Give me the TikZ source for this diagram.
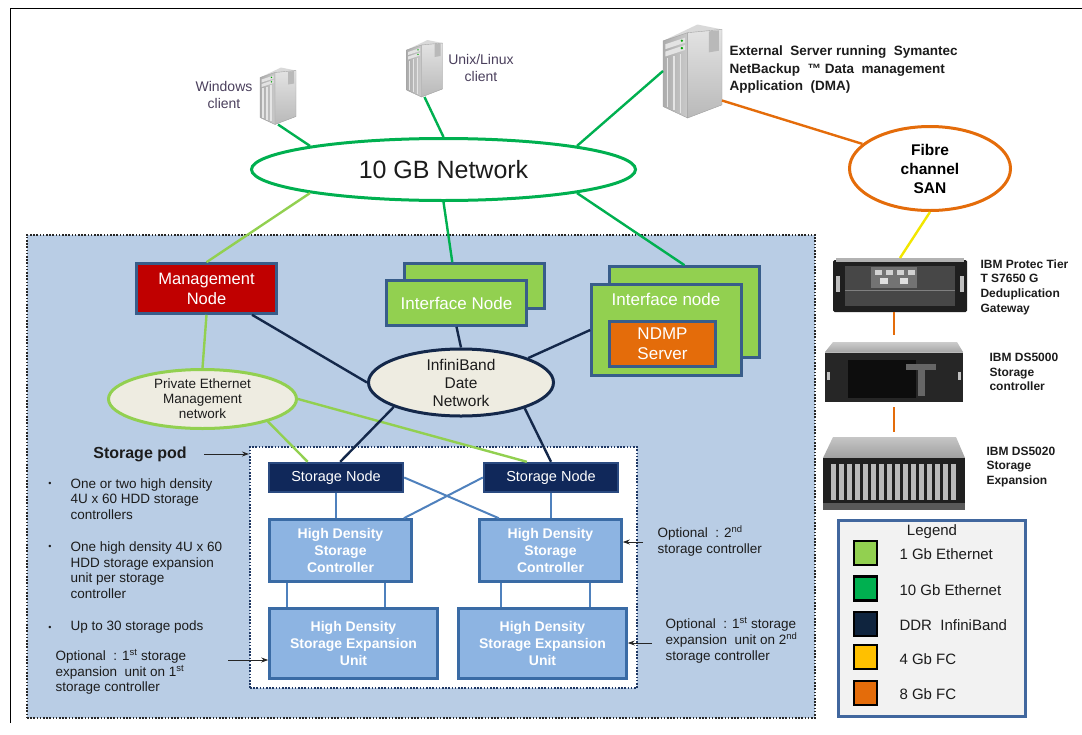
\documentclass[tikz,border=0pt]{standalone}
\usepackage{fontspec}
\setmainfont{Liberation Sans}
\usetikzlibrary{shapes.geometric,calc,arrows.meta}

\definecolor{lgreen}{HTML}{92D050}
\definecolor{dgreen}{HTML}{00B050}
\definecolor{navy}{HTML}{14284A}
\definecolor{navyfill}{HTML}{0F243E}
\definecolor{fcorange}{HTML}{E46C0A}
\definecolor{fcyellow}{HTML}{FFC000}
\definecolor{fcline}{HTML}{F2E600}
\definecolor{podblue}{HTML}{B9CDE5}
\definecolor{edgeblue}{HTML}{385D8A}
\definecolor{mgmtred}{HTML}{C00000}
\definecolor{hdfill}{HTML}{8DB4E2}
\definecolor{hdedge}{HTML}{3A6BA5}
\definecolor{snfill}{HTML}{10285A}
\definecolor{snedge}{HTML}{2A4A80}
\definecolor{linkblue}{HTML}{4F81BD}
\definecolor{cream}{HTML}{EEECE1}
\definecolor{txt}{HTML}{1C1C1C}
\definecolor{clienttxt}{HTML}{4A3F5C}
\definecolor{podedge}{HTML}{1F3864}
\definecolor{legedge}{HTML}{41679E}
\definecolor{legfill}{HTML}{F2F2F2}

\newcommand{\setfs}[2]{\fontsize{#1}{#2}\selectfont}

% tower server icon, drawn in a 36 x 57 local box from the node's north west corner
\newcommand{\towerpic}[2]{%
  \begin{scope}[shift={(#1.north west)},scale=#2]
    \fill[gray!30] (0,10) -- (21,0) -- (36,3) -- (15,5) -- cycle;
    \shade[top color=gray!22, bottom color=gray!55] (15,5) -- (36,3) -- (36,49) -- (15,57) -- cycle;
    \fill[gray!55] (28,4.2) -- (34,3.6) -- (34,16) -- (28,17) -- cycle;
    \shade[left color=gray!65, right color=gray!42] (0,10) -- (15,5) -- (15,57) -- (0,50) -- cycle;
    \fill[gray!22] (1.5,12) -- (13.5,8) -- (13.5,11) -- (1.5,15) -- cycle;
    \fill[gray!22] (1.5,16.5) -- (13.5,12.5) -- (13.5,15.5) -- (1.5,19.5) -- cycle;
    \fill[green!65!black] (11.5,9.9) circle (0.8);
    \fill[green!65!black] (11.5,14.4) circle (0.8);
    \foreach \vv in {2.8,6.8,10.8}
      \draw[gray!20, line width=1.5pt] (\vv,{21.5-\vv/3}) -- (\vv,{49+\vv/2.2});
    \draw[gray!75, line width=0.4pt] (0,10) -- (15,5) -- (15,57) -- (0,50) -- cycle
      (15,5) -- (36,3) -- (36,49) -- (15,57);
  \end{scope}}

\begin{document}
\begin{tikzpicture}[x=1pt,y=-1pt,
  box/.style={draw=edgeblue, line width=2.6pt, inner sep=0pt, align=center},
  oval/.style={ellipse, inner sep=0pt, line width=3pt, align=center},
  hdbox/.style={draw=hdedge, fill=hdfill, line width=2.6pt, inner sep=0pt, align=center,
    text=white, font=\bfseries\setfs{14}{17.3}},
  snbox/.style={draw=snedge, fill=snfill, line width=2.4pt, inner sep=0pt,
    minimum width=134, minimum height=29, text=white, font=\setfs{14.5}{16}},
  lnk/.style={line width=2.4pt},
  tenge/.style={lnk, draw=dgreen},
  onege/.style={lnk, draw=lgreen},
  ibline/.style={lnk, draw=navy},
  fceight/.style={lnk, draw=fcorange},
  fcfour/.style={lnk, draw=fcline},
  podlink/.style={line width=2pt, draw=linkblue},
  note/.style={align=left, text=txt, font=\setfs{13.5}{15.5}},
  hwlbl/.style={anchor=west, align=left, text=txt, font=\bfseries\setfs{12}{14.7}},
  arr/.style={-{Stealth[length=7pt,width=5pt]}, line width=1pt, draw=black!85},
  swatch/.style={draw=black, line width=2.5pt, minimum width=23, minimum height=24, inner sep=0pt},
  legtxt/.style={anchor=west, text=txt, font=\setfs{15}{17}},
  icon/.style={inner sep=0pt, outer sep=0pt}
]
\useasboundingbox (0,0) rectangle (1082,734);

% page frame
\draw[line width=1pt] (10,723) -- (10,8) -- (1082,8);

% cluster area and storage pod
\node[fill=podblue, draw=black!85, line width=2.2pt, dash pattern=on 1.6pt off 1.6pt,
      minimum width=788, minimum height=483, inner sep=0pt] (cluster) at (421,476.5) {};
\node[fill=white, draw=podedge, line width=2pt, dash pattern=on 1.6pt off 1.6pt,
      minimum width=387, minimum height=241, inner sep=0pt] (pod) at (443.5,567.5) {};

% client and server icons
\node[icon, minimum width=36, minimum height=57] (winsrv) at (278,96) {};
\towerpic{winsrv}{1}
\node[icon, minimum width=36, minimum height=57] (unixsrv) at (424.5,68.5) {};
\towerpic{unixsrv}{1}
\node[icon, minimum width=59, minimum height=93] (extsrv) at (692.5,71) {};
\towerpic{extsrv}{1.64}

\node[align=center, text=clienttxt, font=\setfs{14}{17.5}] (wintxt) at (224,95) {Windows\\client};
\node[align=center, text=clienttxt, font=\setfs{14}{17.5}] (unixtxt) at (481,68) {Unix/Linux\\client};
\node[anchor=west, align=left, text=txt, font=\bfseries\setfs{13.5}{17.5}] (exttxt) at (726,70)
  {External\ \ Server running\ \ Symantec\\NetBackup\ \ ™ Data\ \ management\\Application\ \ (DMA)};

% networks
\node[oval, draw=dgreen, fill=white, minimum width=384, minimum height=62,
      text=txt, font=\setfs{25}{28}] (net) at (443.5,169.5) {10 GB Network};
\node[oval, draw=fcorange, fill=white, minimum width=161, minimum height=84,
      text=black, font=\bfseries\setfs{15.5}{19}] (san) at (930,168.5) {Fibre\\channel\\SAN};

% storage hardware
\node[icon, minimum width=134, minimum height=54] (gw) at (900,285) {};
\fill[black!88, rounded corners=1.5pt] (833,260) rectangle (967,312);
\fill[gray!60] (836,258) rectangle (964,262);
\fill[black!72] (845,266) rectangle (955,306);
\fill[black!55] (871,267) rectangle (917,288);
\foreach \xx in {875,886,897,908}
  \fill[gray!35] (\xx,270) rectangle ({\xx+7},275);
\fill[gray!25] (880,278) rectangle (888,284);
\fill[gray!25] (900,278) rectangle (908,284);
\draw[black!50, line width=0.6pt] (845,290) -- (955,290);
\fill[gray!50] (836,276) rectangle (840,292);
\fill[gray!50] (960,276) rectangle (964,292);
\node[hwlbl] (gwtxt) at (977,287) {IBM Protec Tier\\T S7650 G\\Deduplication\\Gateway};

\node[icon, minimum width=138, minimum height=60] (ds5k) at (894,372) {};
\shade[top color=gray!40, bottom color=gray!70] (833,342) -- (957,342) -- (963,352) -- (825,352) -- cycle;
\fill[black!85] (825,352) rectangle (963,402);
\fill[black!95] (848,360) rectangle (916,398);
\fill[black!60] (906,364) rectangle (936,370);
\fill[black!60] (918,370) rectangle (925,396);
\fill[gray!50] (827,372) rectangle (830,380);
\fill[gray!50] (958,372) rectangle (961,380);
\draw[gray!55, line width=0.6pt] (825,352) -- (963,352);
\node[hwlbl] (ds5ktxt) at (986,372) {IBM DS5000\\Storage\\controller};

\node[icon, minimum width=142, minimum height=73] (ds5kx) at (894,473.5) {};
\shade[top color=gray!45, bottom color=gray!75] (833,437) -- (956,437) -- (965,458) -- (823,458) -- cycle;
\fill[black!88] (823,458) rectangle (965,510);
\foreach \ii in {0,...,15}
  \fill[gray!55] ({831+\ii*8},464) rectangle ({836+\ii*8},500);
\fill[black!65] (823,503) rectangle (965,510);
\node[hwlbl] (ds5kxtxt) at (983,467) {IBM DS5020\\Storage\\Expansion};

% cluster nodes
\node[box, fill=mgmtred, minimum width=140, minimum height=50, text=white,
      font=\setfs{16.5}{20}] (mgmt) at (206.5,288.5) {Management\\Node};
\node[box, fill=lgreen, minimum width=140, minimum height=45] (ifb) at (474.5,286) {};
\node[box, fill=lgreen, minimum width=140, minimum height=45, text=white,
      font=\setfs{17}{19}] (ifn) at (456.5,303) {Interface Node};
\node[box, fill=lgreen, minimum width=150, minimum height=91] (ifrb) at (684.5,312) {};
\node[box, fill=lgreen, minimum width=150, minimum height=91] (ifr) at (666.5,330) {};
\node[text=white, font=\setfs{17}{19}] (ifrtxt) at (666,299) {Interface node};
\node[box, fill=fcorange, minimum width=106, minimum height=45, text=white,
      font=\setfs{17}{20}] (ndmp) at (662.5,344) {NDMP\\Server};

\node[oval, draw=navy, fill=cream, minimum width=185, minimum height=62,
      text=txt, font=\setfs{15.5}{18}] (ibnet) at (461,382.5) {InfiniBand\\Date\\Network};
\node[oval, draw=lgreen, fill=cream, minimum width=188, minimum height=59,
      text=txt, font=\setfs{13.5}{15}] (priv) at (202.5,399) {Private Ethernet\\Management\\network};

% storage pod contents
\node[snbox] (sn1) at (336,477.5) {Storage Node};
\node[snbox] (sn2) at (551,477.5) {Storage Node};
\node[hdbox, minimum width=142, minimum height=62] (hdc1) at (340.5,550.5) {High Density\\Storage\\Controller};
\node[hdbox, minimum width=142, minimum height=62] (hdc2) at (550.5,550.5) {High Density\\Storage\\Controller};
\node[hdbox, minimum width=168, minimum height=70] (hde1) at (353.5,643.5) {High Density\\Storage Expansion\\Unit};
\node[hdbox, minimum width=168, minimum height=70] (hde2) at (542.5,643.5) {High Density\\Storage Expansion\\Unit};

% connectors: 10 Gb Ethernet
\draw[tenge] (winsrv.south) -- (net.170);
\draw[tenge] (unixsrv.south) -- (net.90);
\draw[tenge] (extsrv.west) -- (net.10);
\draw[tenge] (net.270) -- (ifb.133);
\draw[tenge] (net.350) -- (ifrb.north);
% connectors: 1 Gb Ethernet
\draw[onege] (net.190) -- (mgmt.north);
\draw[onege] (mgmt.south) -- (priv.north);
\draw[onege] (priv.-19) -- (sn1.151);
\draw[onege] (priv.0) -- (sn2.147);
% connectors: InfiniBand
\draw[ibline] (mgmt.-30) -- (ibnet.180);
\draw[ibline] (ifn.south) -- (ibnet.90);
\draw[ibline] (ifr.west) -- (ibnet.20.6);
\draw[ibline] (ibnet.200) -- (sn1.75);
\draw[ibline] (ibnet.338) -- (sn2.north);
% connectors: fibre channel
\draw[fceight] (extsrv.-45) -- (san.160);
\draw[fcfour] (san.270) -- (gw.north);
\draw[fceight, shorten >=7pt] (ds5k.north |- gw.south) -- (ds5k.north);
\draw[fceight, shorten <=5pt, shorten >=5pt] (ds5k.south) -- (ds5kx.north);

% links inside the storage pod
\draw[podlink] (sn1.south) -- (sn1.south |- hdc1.north);
\draw[podlink] (sn2.south) -- (sn2.south |- hdc2.north);
\draw[podlink] (sn1.east) -- (hdc2.148);
\draw[podlink] (sn2.west) -- (hdc1.27.5);
\coordinate (v1) at ($(hdc1.south west)+(19,0)$);
\coordinate (v2) at ($(hdc1.south west)+(117,0)$);
\coordinate (v3) at ($(hdc2.south west)+(23,0)$);
\coordinate (v4) at ($(hdc2.south west)+(112,0)$);
\foreach \vp in {v1,v2,v3,v4}
  \draw[podlink] (\vp) -- (\vp |- hde1.north);

% storage pod description
\node[text=txt, font=\bfseries\setfs{16}{18}] (podtxt) at (140,454) {Storage pod};
\draw[arr] (podtxt.east) ++(14,0) coordinate (pa) (pa) -- (pa -| pod.west);
\node[text=txt, font=\setfs{9}{10}] (bul1) at (50,484) {•};
\node[text=txt, font=\setfs{9}{10}] (bul2) at (50,547) {•};
\node[text=txt, font=\setfs{9}{10}] (bul3) at (50,628) {•};
\node[note, anchor=west] (bt1) at (67,499) {One or two high density\\4U x 60 HDD storage\\controllers};
\node[note, anchor=west] (bt2) at (67,570) {One high density 4U x 60\\HDD storage expansion\\unit per storage\\controller};
\node[note, anchor=west] (bt3) at (67,627) {Up to 30 storage pods};
\node[note, anchor=west, font=\setfs{13.5}{15.3}] (opt1) at (52,672)
  {Optional\ \ : 1\textsuperscript{st} storage\\expansion\ \ unit on 1\textsuperscript{st}\\storage controller};
\coordinate (a1) at (228,660);
\draw[arr] (a1) -- (a1 -| hde1.west);

\node[note, anchor=west, font=\setfs{13.5}{16}] (opt2) at (654,541)
  {Optional\ \ : 2\textsuperscript{nd}\\storage controller};
\coordinate (a2) at (643,542);
\draw[arr] (a2) -- (a2 -| hdc2.east);
\node[note, anchor=west, font=\setfs{13.5}{16}] (opt3) at (662,640)
  {Optional\ \ : 1\textsuperscript{st} storage\\expansion\ \ unit on 2\textsuperscript{nd}\\storage controller};
\coordinate (a3) at (652,643);
\draw[arr] (a3) -- (a3 -| hde2.east);

% legend
\node[draw=legedge, fill=legfill, line width=3pt, minimum width=187, minimum height=196,
      inner sep=0pt] (legend) at (932,618.5) {};
\node[text=txt, font=\setfs{15}{17}] (legtitle) at (932,532) {Legend};
\node[swatch, fill=lgreen] (sw1) at (865.5,553) {};
\node[swatch, fill=dgreen] (sw2) at (865.5,588.5) {};
\node[swatch, fill=navyfill] (sw3) at (865.5,624) {};
\node[swatch, fill=fcyellow] (sw4) at (865.5,657) {};
\node[swatch, fill=fcorange] (sw5) at (865.5,693) {};
\node[legtxt] (lt1) at (896,554) {1 Gb Ethernet};
\node[legtxt] (lt2) at (896,590) {10 Gb Ethernet};
\node[legtxt] (lt3) at (896,625) {DDR\ \ InfiniBand};
\node[legtxt] (lt4) at (896,659) {4 Gb FC};
\node[legtxt] (lt5) at (896,694) {8 Gb FC};
\end{tikzpicture}
\end{document}
